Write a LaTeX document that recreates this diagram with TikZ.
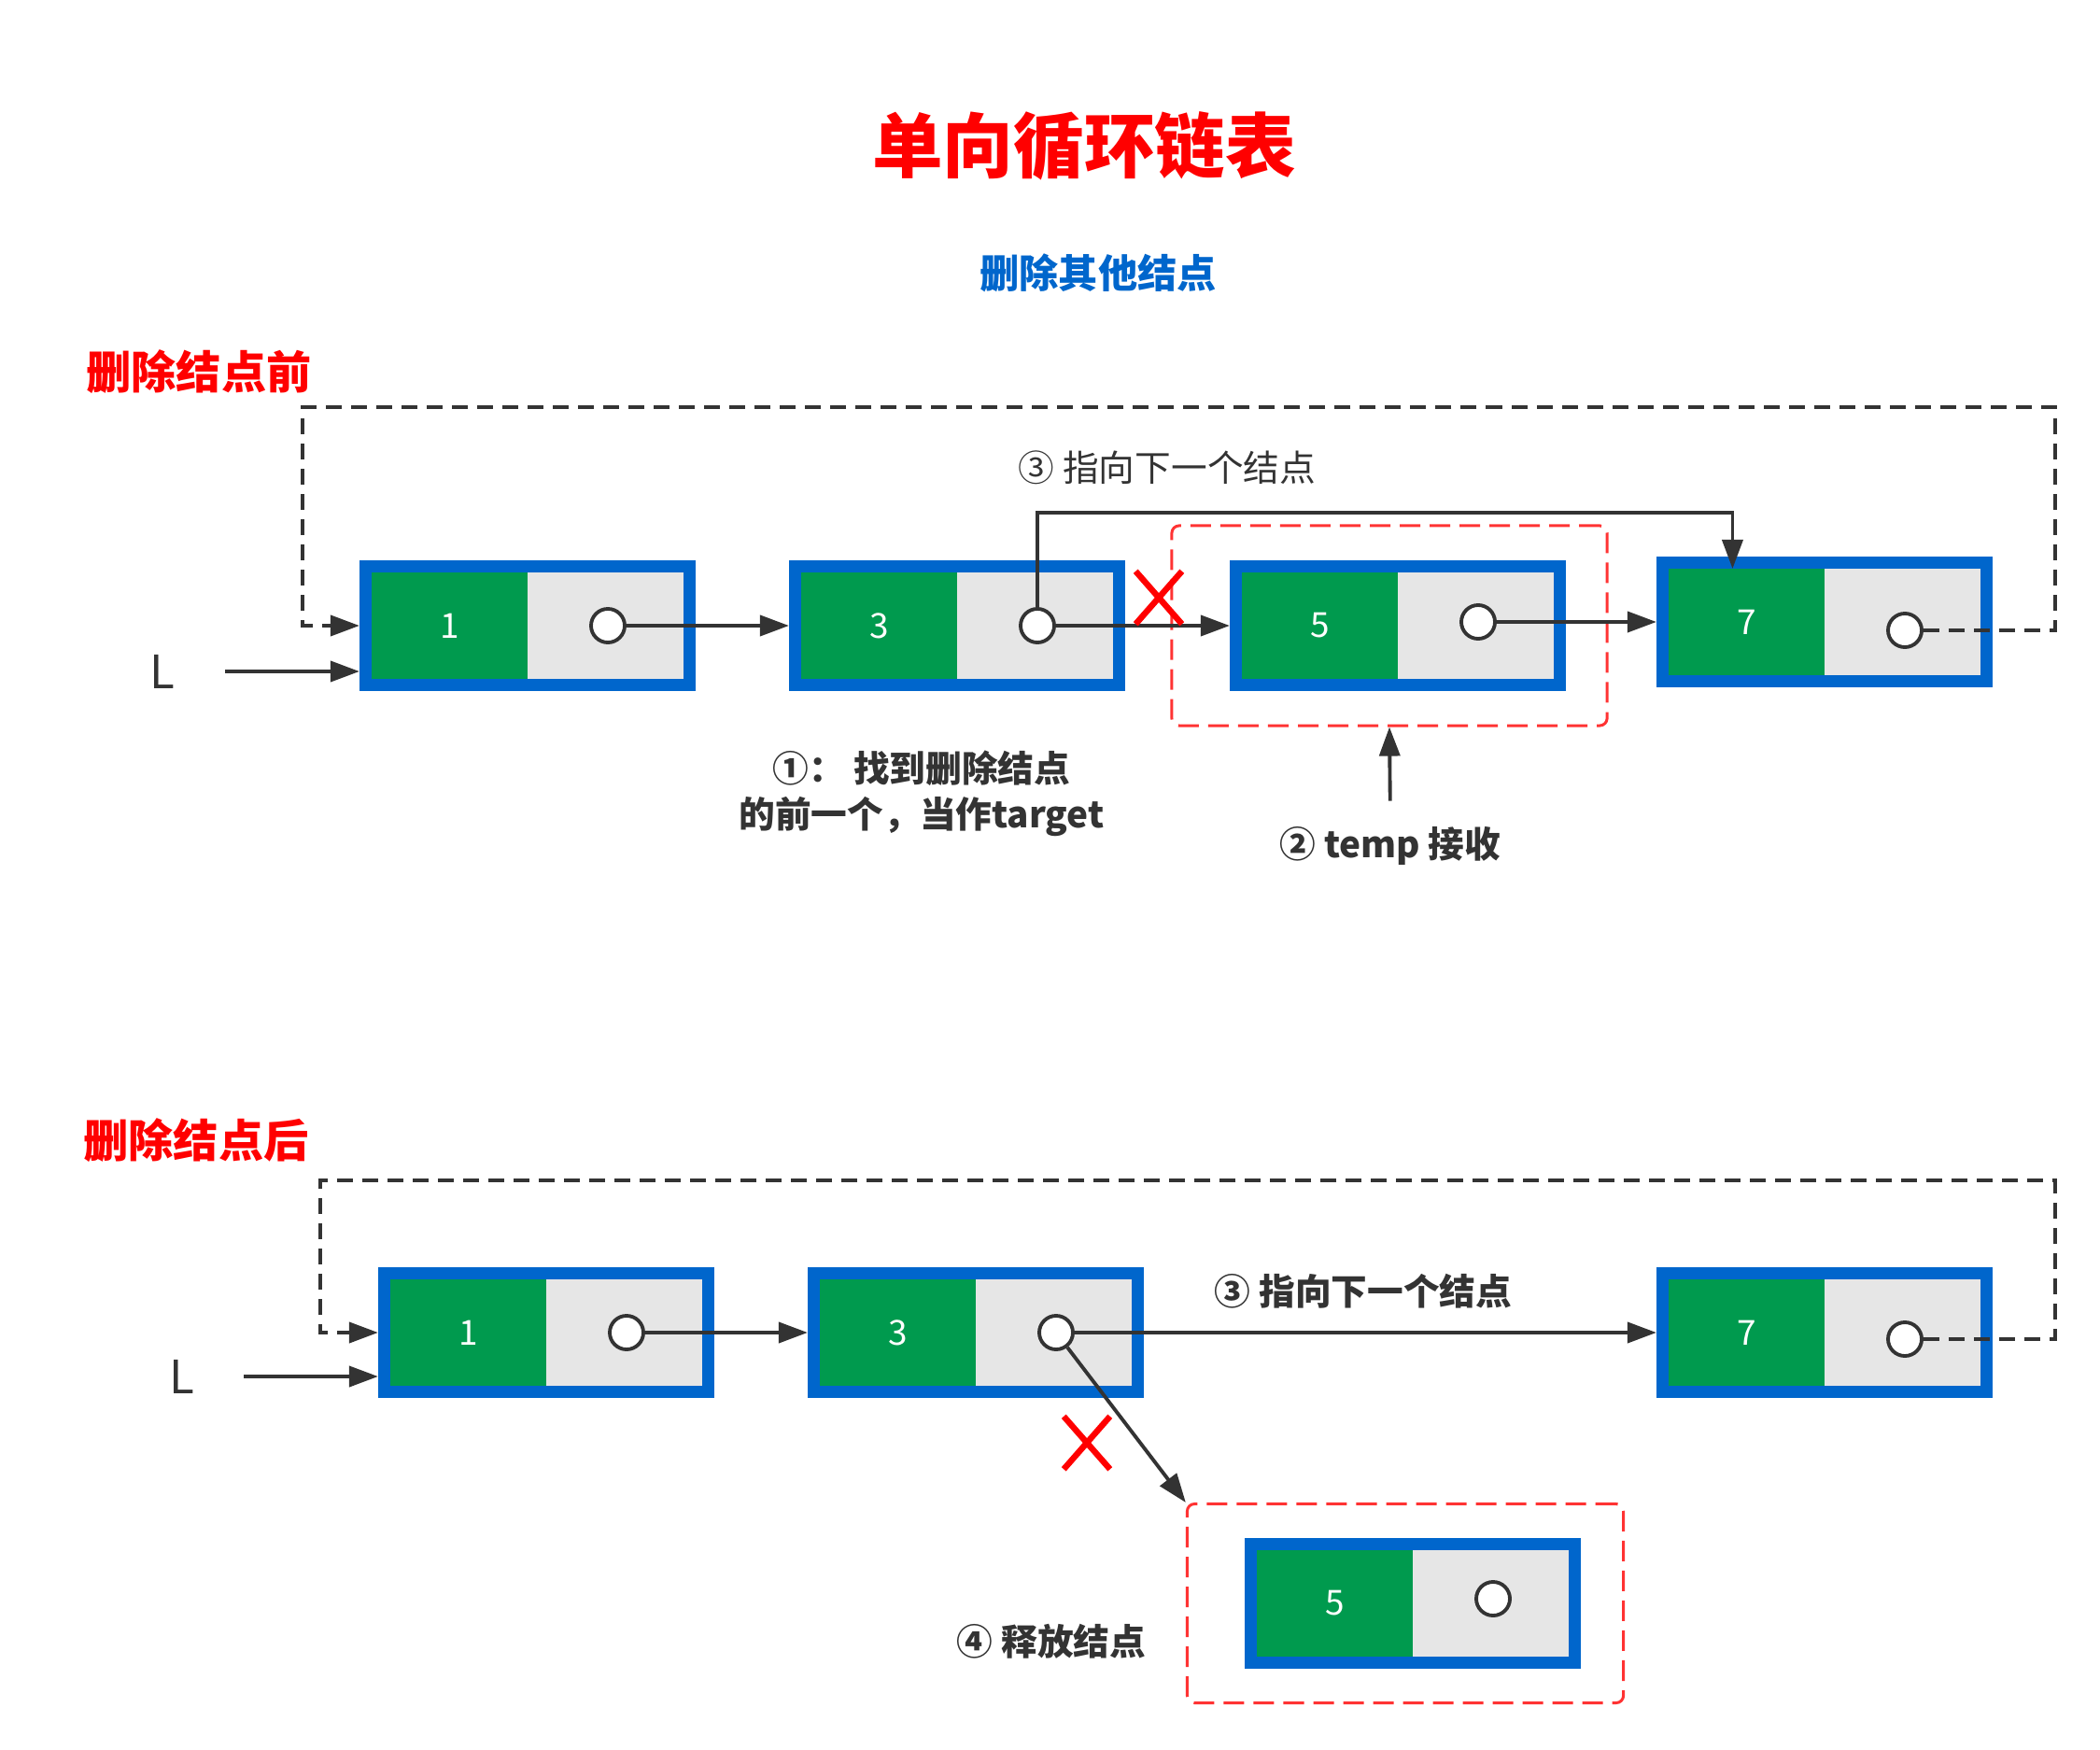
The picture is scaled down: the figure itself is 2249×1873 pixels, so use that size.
\documentclass[tikz,border=0pt]{standalone}
\usepackage{fontspec}
\setmainfont{Noto Sans CJK SC}
\usepackage{tikz}
\usetikzlibrary{positioning, fit, arrows.meta, shapes.misc}

\definecolor{frameblue}{HTML}{0066CC}
\definecolor{cellgreen}{HTML}{009A4E}
\definecolor{cellgray}{HTML}{E6E6E6}
\definecolor{ink}{HTML}{333333}
\definecolor{alertred}{HTML}{FF0000}
\definecolor{boxred}{HTML}{FF3333}

\begin{document}
\begin{tikzpicture}[x=0.01cm, y=-0.01cm,
    datacell/.style={fill=cellgreen, minimum width=1.67cm, minimum height=1.14cm, inner sep=0, outer sep=0, text=white, font=\fontsize{10.5}{12}\selectfont},
    ptrcell/.style={fill=cellgray, minimum width=1.67cm, minimum height=1.14cm, inner sep=0, outer sep=0},
    cellframe/.style={draw=frameblue, line width=0.13cm, inner sep=0.065cm},
    hole/.style={circle, draw=ink, fill=white, line width=1.1pt, minimum size=0.36cm, inner sep=0},
    link/.style={draw=ink, line width=1.1pt, -{Triangle[length=0.31cm, width=0.22cm]}},
    backlink/.style={link, dash pattern=on 0.17cm off 0.1cm},
    strike/.style={cross out, draw=alertred, line width=0.065cm, minimum width=0.43cm, minimum height=0.5cm, inner sep=0},
    dropbox/.style={draw=boxred, dash pattern=on 0.22cm off 0.1cm, line width=0.85pt, rounded corners=0.08cm, minimum width=4.66cm, minimum height=2.14cm},
    note/.style={text=ink, inner sep=0, font=\fontsize{11}{14}\selectfont},
    boldnote/.style={note, font=\fontsize{11}{14}\selectfont\bfseries},
    headline/.style={text=alertred, inner sep=0, font=\fontsize{21.5}{24}\selectfont\bfseries},
    subhead/.style={text=frameblue, inner sep=0, font=\fontsize{12}{14}\selectfont\bfseries},
    stage/.style={text=alertred, inner sep=0, font=\fontsize{13.7}{16}\selectfont\bfseries},
    headvar/.style={text=ink, inner sep=0, font=\fontsize{14}{16}\selectfont}]

    \useasboundingbox (0,0) rectangle (2249,1873);

    % Titles
    \node[headline] (ttl) at (1161,156) {单向循环链表};
    \node[subhead] (sub) at (1176,292) {删除其他结点};
    \node[stage] (before) at (213,398) {删除结点前};
    \node[stage] (after) at (210,1221) {删除结点后};

    % List nodes: value cell, pointer cell, frame and pointer dot
    \foreach \id/\val/\x/\y/\dy in {a1/1/565/670/0, a3/3/1025/670/0, a5/5/1497/670/-4, a7/7/1954/666/9,
                                     b1/1/585/1427/0, b3/3/1045/1427/0, b7/7/1954/1427/7, b5/5/1513/1717/-5} {
      \node[datacell, anchor=east] (d\id) at (\x,\y) {\val};
      \node[ptrcell, right=0pt of d\id] (p\id) {};
      \node[cellframe, fit=(d\id)(p\id)] (f\id) {};
      \node[hole] (c\id) at (\x+86,\y+\dy) {};
    }

    % Before deleting
    \node[dropbox] (ga5) at (1488,670) {};
    \node[headvar] (La) at (174,719) {L};
    \coordinate (hop) at (0,549);
    \coordinate (ra) at (2201,436);
    \coordinate (rb) at (324,436);

    \draw[link, shorten <=0.53cm] (La.east) -- (La.east -| fa1.west);
    \draw[link] (ca1) -- (fa3.west);
    \draw[link] (ca3) -- (fa5.west);
    \draw[link] (ca5) -- (ca5 -| fa7.west);
    \draw[link] (ca3) -- (ca3 |- hop) -| ([xshift=-0.15cm]da7.north);
    \draw[backlink] (ca7) -- (ca7 -| ra) -- (ra) -- (rb) -- (rb |- fa1.west) -- (fa1.west);
    \node[strike] (xa) at (1241,640) {};

    \node[note] (pa) at (1250,501) {③ 指向下一个结点};
    \node[boldnote, align=center] (tg) at (987,850) {①： 找到删除结点\\的前一个，当作target};
    \node[boldnote] (tmp) at (1489,906) {② temp 接收};
    \draw[link, shorten <=0.27cm] (tmp.north) -- (ga5.south);

    % After deleting
    \node[dropbox, minimum width=4.67cm, minimum height=2.13cm] (gb5) at (1505,1717) {};
    \node[headvar] (Lb) at (195,1474) {L};
    \coordinate (rc) at (2201,1264);
    \coordinate (rd) at (343,1264);

    \draw[link, shorten <=0.52cm] (Lb.east) -- (Lb.east -| fb1.west);
    \draw[link] (cb1) -- (fb3.west);
    \draw[link] (cb3) -- (fb7.west);
    \draw[link] (cb3) -- (gb5.north west);
    \draw[backlink] (cb7) -- (cb7 -| rc) -- (rc) -- (rd) -- (rd |- fb1.west) -- (fb1.west);
    \node[strike] (xb) at (1164,1545) {};

    \node[boldnote] (pb) at (1460,1383) {③ 指向下一个结点};
    \node[boldnote] (fr) at (1126,1758) {④ 释放结点};

\end{tikzpicture}
\end{document}
